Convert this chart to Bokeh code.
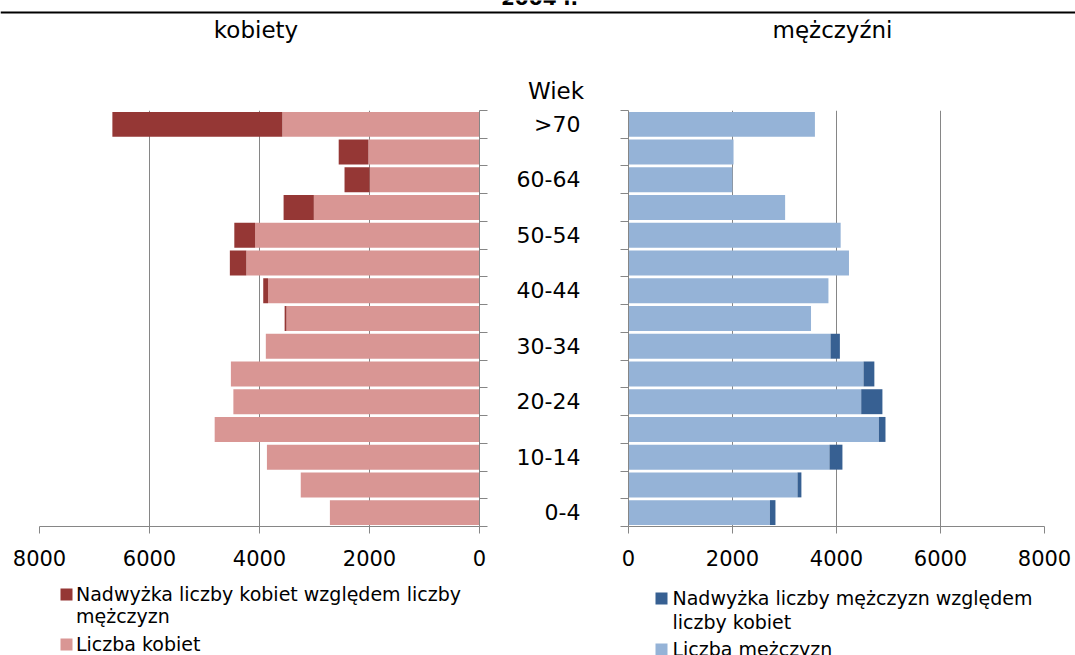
from bokeh.plotting import figure
from bokeh.models import Range1d, LinearAxis, FixedTicker, Grid, ColumnDataSource
from bokeh.layouts import row, column
from bokeh.embed import file_html
from bokeh.resources import INLINE
from bokeh.core.properties import value

# ---------------- data ----------------
categories = ["0-4", "5-9", "10-14", "15-19", "20-24", "25-29", "30-34", "35-39",
              "40-44", "45-49", "50-54", "55-59", "60-64", "65-69", ">70"]
common_count = [2720, 3250, 3865, 4815, 4475, 4520, 3885, 3510,
                3845, 4240, 4080, 3012, 1998, 2020, 3585]
women_surplus = [0, 0, 0, 0, 0, 0, 0, 33, 87, 299, 378, 550, 456, 540, 3090]
men_surplus = [106, 75, 249, 127, 408, 208, 180, 0, 0, 0, 0, 0, 0, 0, 0]
x_ticks = [0, 2000, 4000, 6000, 8000]
labelled = ["0-4", "10-14", "20-24", "30-34", "40-44", "50-54", "60-64", ">70"]

FONT = "DejaVu Sans"
GRID = "#868686"
W_LIGHT, W_DARK = "#D99694", "#953735"
M_LIGHT, M_DARK = "#95B3D7", "#376092"

idx = list(range(len(categories)))
bounds = [i - 0.5 for i in range(len(categories) + 1)]
src = ColumnDataSource(dict(
    y=idx, zero=[0] * len(idx), common=common_count,
    wtot=[c + s for c, s in zip(common_count, women_surplus)],
    mtot=[c + s for c, s in zip(common_count, men_surplus)],
))

W = 1075
HEAD_H = 110
CHART_H = 470
FRAME_H = 416
LEG_H = 655 - HEAD_H - CHART_H
LW = 490
RW = W - LW


def blank_fig(width, height, y0, y1):
    p = figure(width=width, height=height, x_range=Range1d(0, width),
               y_range=Range1d(y1, y0), output_backend="svg", toolbar_location=None,
               x_axis_location=None, y_axis_location=None, min_border=0)
    p.center = []
    p.outline_line_color = None
    p.background_fill_color = "white"
    p.border_fill_color = "white"
    return p


def txt(p, x, y, t, size, align="left", style="normal"):
    px = int(size.replace("px", ""))
    p.text(x=[x], y=[y - round(0.35 * px)], text=[t], text_font=value(FONT),
           text_font_size=size, text_align=align, text_baseline="alphabetic",
           text_color="black", text_font_style=style)


def sq(p, l, r, t, b, color):
    p.quad(left=[l], right=[r], top=[t], bottom=[b], fill_color=color, line_color=None)


# ---------------- header ----------------
head = blank_fig(W, HEAD_H, 0, HEAD_H)
sq(head, 0, W, 11, 13, "black")
txt(head, 539, 4.5, "2004 r.", "20px", "center", "bold")
txt(head, 255.5, 37, "kobiety", "23px", "center")
txt(head, 832, 37, "mężczyźni", "23px", "center")
txt(head, 555.5, 98, "Wiek", "23px", "center")


# ---------------- chart figures ----------------
def chart_fig(width, xr, left, right):
    p = figure(width=width, height=CHART_H, x_range=xr,
               y_range=Range1d(-0.5, len(idx) - 0.5),
               output_backend="svg", toolbar_location=None,
               x_axis_location=None, y_axis_location=None,
               min_border_left=left, min_border_right=right,
               min_border_top=0, min_border_bottom=CHART_H - FRAME_H)
    p.center = []
    p.outline_line_color = None
    p.background_fill_color = "white"
    p.border_fill_color = "white"
    xa = LinearAxis(ticker=FixedTicker(ticks=x_ticks))
    xa.axis_line_color = GRID
    xa.major_tick_line_color = GRID
    xa.major_tick_out = 7
    xa.major_tick_in = 0
    xa.minor_tick_line_color = None
    xa.major_label_text_font = FONT
    xa.major_label_text_font_size = "21px"
    xa.major_label_text_color = "black"
    xa.major_label_standoff = 16
    p.add_layout(xa, "below")
    p.add_layout(Grid(dimension=0, ticker=xa.ticker, grid_line_color=GRID, grid_line_width=1))
    return p


# left: women
pl = chart_fig(LW, Range1d(8000, 0), 39, LW - 39 - 440)
ya = LinearAxis(ticker=FixedTicker(ticks=[], minor_ticks=bounds))
ya.axis_line_color = GRID
ya.minor_tick_line_color = GRID
ya.minor_tick_out = 8
ya.minor_tick_in = 0
ya.major_tick_line_color = None
ya.major_label_text_font_size = "0px"
ya.major_label_standoff = 0
pl.add_layout(ya, "right")
pl.hbar(y="y", left="zero", right="common", height=0.9, source=src,
        fill_color=W_LIGHT, line_color=None)
pl.hbar(y="y", left="common", right="wtot", height=0.9, source=src,
        fill_color=W_DARK, line_color=None)

# right: men
pr = chart_fig(RW, Range1d(0, 8000), 138, RW - 138 - 416)
ya2 = LinearAxis(ticker=FixedTicker(ticks=[categories.index(c) for c in labelled],
                                    minor_ticks=bounds))
ya2.axis_line_color = GRID
ya2.minor_tick_line_color = GRID
ya2.minor_tick_out = 8
ya2.minor_tick_in = 0
ya2.major_tick_out = 0
ya2.major_tick_in = 0
ya2.major_tick_line_color = None
ya2.major_label_overrides = {categories.index(c): c for c in labelled}
ya2.major_label_text_font = FONT
ya2.major_label_text_font_size = "22px"
ya2.major_label_text_color = "black"
ya2.major_label_standoff = 40
pr.add_layout(ya2, "left")
pr.hbar(y="y", left="zero", right="common", height=0.9, source=src,
        fill_color=M_LIGHT, line_color=None)
pr.hbar(y="y", left="common", right="mtot", height=0.9, source=src,
        fill_color=M_DARK, line_color=None)

# ---------------- legends ----------------
Y0 = HEAD_H + CHART_H
leg = blank_fig(W, LEG_H, Y0, 655)
sq(leg, 60, 72, 588, 600, W_DARK)
txt(leg, 75.5, 600.5, "Nadwyżka liczby kobiet względem liczby", "19px")
txt(leg, 75.5, 622.5, "mężczyzn", "19px")
sq(leg, 60, 72, 638, 650, W_LIGHT)
txt(leg, 75.5, 650.5, "Liczba kobiet", "19px")
sq(leg, 655, 667, 592, 604, M_DARK)
txt(leg, 672, 604.5, "Nadwyżka liczby mężczyzn względem", "19px")
txt(leg, 672, 628.5, "liczby kobiet", "19px")
sq(leg, 655, 667, 643, 655, M_LIGHT)
txt(leg, 672, 655.5, "Liczba mężczyzn", "19px")

layout = column(head, row(pl, pr), leg)

open("out.html", "w").write(file_html(layout, INLINE))
